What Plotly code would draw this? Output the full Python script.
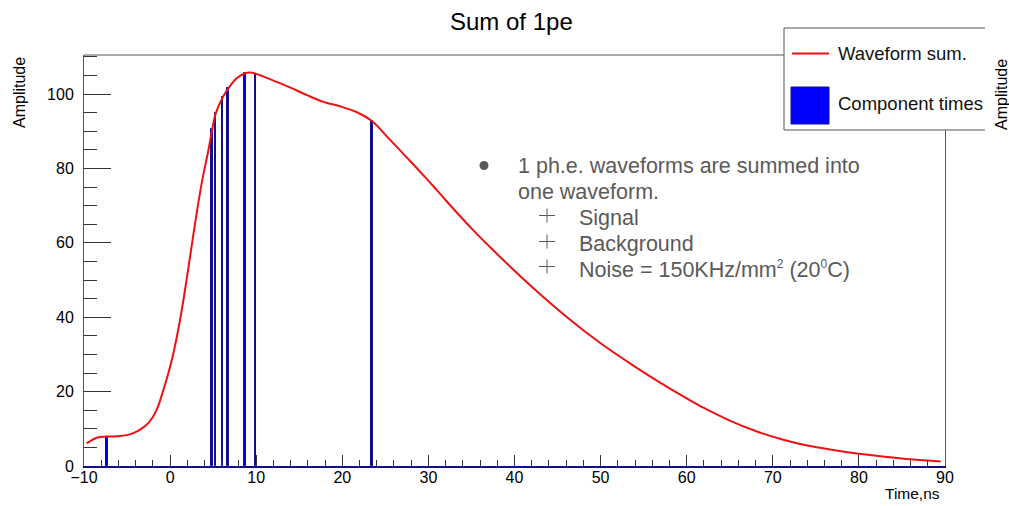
import plotly.graph_objects as go

# Summed 1 p.e. waveform (time in ns, amplitude)
wave_time = [-9.7, -8.5, -7.4, -6.0, -5.0, -4.2, -3.4, -2.5, -1.6, -0.8, 0.2, 1.15,
             1.95, 2.7, 3.65, 4.45, 4.9, 5.3, 6.15, 6.75, 7.7, 8.7, 9.3, 10.05,
             12.0, 13.9, 15.9, 17.8, 19.7, 21.7, 23.4, 25.5, 27.5, 29.4, 31.0,
             33.0, 35.0, 37.0, 40.0, 42.2, 46.1, 50.0, 53.8, 57.0, 60.0, 62.0,
             65.0, 68.0, 71.0, 74.0, 77.0, 80.0, 83.0, 86.0, 89.5]
wave_amp = [6.1, 7.6, 7.9, 8.0, 8.3, 8.9, 9.9, 11.6, 14.9, 20.3, 28.5, 39.2,
            50.6, 62.2, 75.8, 84.9, 90.6, 94.8, 99.3, 101.5, 104.2, 105.6, 105.8, 105.4,
            103.6, 101.8, 99.7, 97.9, 96.7, 95.1, 92.8, 87.8, 82.9, 78.2, 74.1,
            68.9, 63.9, 59.2, 52.5, 47.8, 40.0, 33.0, 27.0, 22.3, 18.2, 15.6,
            12.2, 9.4, 7.2, 5.5, 4.3, 3.3, 2.5, 1.8, 1.2]

# Arrival times of the individual components and their amplitudes
comp_times = [-7.36, 4.9, 5.28, 6.1, 6.76, 8.7, 9.92, 23.42]
comp_heights = [7.9, 90.6, 94.8, 99.2, 101.5, 105.6, 105.4, 92.8]

x_range = [-10, 90]
y_range = [0, 110.5]

title_text = "Sum of 1pe"
x_title = "Time,ns"
y_title = "Amplitude"
legend_labels = ["Waveform sum.", "Component times"]
note_lines = ["1 ph.e. waveforms are summed into", "one waveform."]
note_items = ["Signal", "Background",
              "Noise = 150KHz/mm<sup><span style='font-size:12px'>2</span></sup> "
              "(20<sup><span style='font-size:12px'>0</span></sup>C)"]

W, H = 1009, 506
L, R, T, B = 84, 945, 55, 466
FONT = "Liberation Sans, Arial, Helvetica, sans-serif"
RED = "#ee1111"
NAVY = "#10108c"
GREY = "#5a5a5a"
FRAME = "#555555"


def fx(p):
    return (p - L) / (R - L)


def fy(p):
    return (B - p) / (B - T)


fig = go.Figure()

fig.add_trace(go.Bar(
    x=comp_times, y=comp_heights, width=0.2,
    marker=dict(color="#0000ff", line=dict(color=NAVY, width=1)),
    showlegend=False,
))
fig.add_trace(go.Scatter(
    x=wave_time, y=wave_amp, mode="lines",
    line=dict(color=RED, width=2, shape="spline", smoothing=1.0),
    showlegend=False,
))

shapes = []
# top edge of the frame
shapes.append(dict(type="line", xref="paper", yref="paper", x0=0, x1=1, y0=1, y1=1,
                   line=dict(color=FRAME, width=1), layer="above"))
# legend box (open on the right side)
shapes.append(dict(type="rect", xref="paper", yref="paper",
                   x0=fx(784), x1=fx(985), y0=fy(130), y1=fy(28),
                   fillcolor="white", line=dict(width=0), layer="above"))
for (xa, ya, xb, yb) in [(784, 28, 985, 28), (784, 28, 784, 130), (784, 130, 985, 130)]:
    shapes.append(dict(type="line", xref="paper", yref="paper",
                       x0=fx(xa), x1=fx(xb), y0=fy(ya), y1=fy(yb),
                       line=dict(color=FRAME, width=1), layer="above"))
shapes.append(dict(type="line", xref="paper", yref="paper",
                   x0=fx(792), x1=fx(829), y0=fy(53.5), y1=fy(53.5),
                   line=dict(color=RED, width=2), layer="above"))
shapes.append(dict(type="rect", xref="paper", yref="paper",
                   x0=fx(791), x1=fx(829), y0=fy(124), y1=fy(87),
                   fillcolor="#0000ff", line=dict(color=NAVY, width=1), layer="above"))
# bullet and crosses of the note
shapes.append(dict(type="circle", xref="paper", yref="paper",
                   x0=fx(479.5), x1=fx(488.5), y0=fy(170), y1=fy(161),
                   fillcolor=GREY, line=dict(width=0), layer="above"))
for cy in (215.5, 241.5, 266.5):
    shapes.append(dict(type="line", xref="paper", yref="paper",
                       x0=fx(539), x1=fx(555), y0=fy(cy), y1=fy(cy),
                       line=dict(color=GREY, width=1), layer="above"))
    shapes.append(dict(type="line", xref="paper", yref="paper",
                       x0=fx(547), x1=fx(547), y0=fy(cy - 7), y1=fy(cy + 7),
                       line=dict(color=GREY, width=1), layer="above"))

ann = []
ann.append(dict(text=title_text, x=fx(511), y=fy(21), font=dict(size=24, color="black")))
ann.append(dict(text=y_title, x=fx(19), y=fy(93), textangle=-90, font=dict(size=16, color="black")))
ann.append(dict(text=y_title, x=fx(1001), y=fy(94), textangle=-90, font=dict(size=16, color="black")))
ann.append(dict(text=x_title, x=fx(942), y=fy(494), xanchor="right", font=dict(size=15.5, color="black")))
for txt, yy in zip(legend_labels, (53.5, 104)):
    ann.append(dict(text=txt, x=fx(836), y=fy(yy), xanchor="left", font=dict(size=18.5, color="#111111")))
for txt, yy in zip(note_lines, (166.5, 192)):
    ann.append(dict(text=txt, x=fx(516), y=fy(yy), xanchor="left", font=dict(size=21.5, color=GREY)))
for txt, yy in zip(note_items, (218, 244, 269)):
    ann.append(dict(text=txt, x=fx(577), y=fy(yy), xanchor="left", font=dict(size=21.5, color=GREY)))
for a in ann:
    a.update(xref="paper", yref="paper", showarrow=False)
    a.setdefault("xanchor", "center")
    a.setdefault("yanchor", "middle")

fig.update_layout(
    width=W, height=H,
    margin=dict(l=L, r=W - R, t=T, b=H - B, pad=0),
    paper_bgcolor="white", plot_bgcolor="white",
    font=dict(family=FONT, size=16, color="black"),
    shapes=shapes, annotations=ann, showlegend=False, bargap=0,
)
fig.update_xaxes(
    range=x_range, showgrid=False, zeroline=False,
    showline=True, linecolor=NAVY, linewidth=2,
    ticks="inside", dtick=10, tick0=0, ticklen=11, tickwidth=1, tickcolor="#333333",
    minor=dict(ticks="inside", dtick=2, ticklen=6, tickwidth=1, tickcolor="#333333"),
    tickfont=dict(size=16), ticklabelstandoff=-4,
)
fig.update_yaxes(
    range=y_range, showgrid=False, zeroline=False,
    showline=True, mirror=True, linecolor=FRAME, linewidth=1,
    ticks="inside", dtick=20, tick0=0, ticklen=27, tickwidth=1, tickcolor="#333333",
    minor=dict(ticks="inside", dtick=5, ticklen=13, tickwidth=1, tickcolor="#333333"),
    tickfont=dict(size=16), ticklabelstandoff=6,
)

fig.write_html("out.html")
